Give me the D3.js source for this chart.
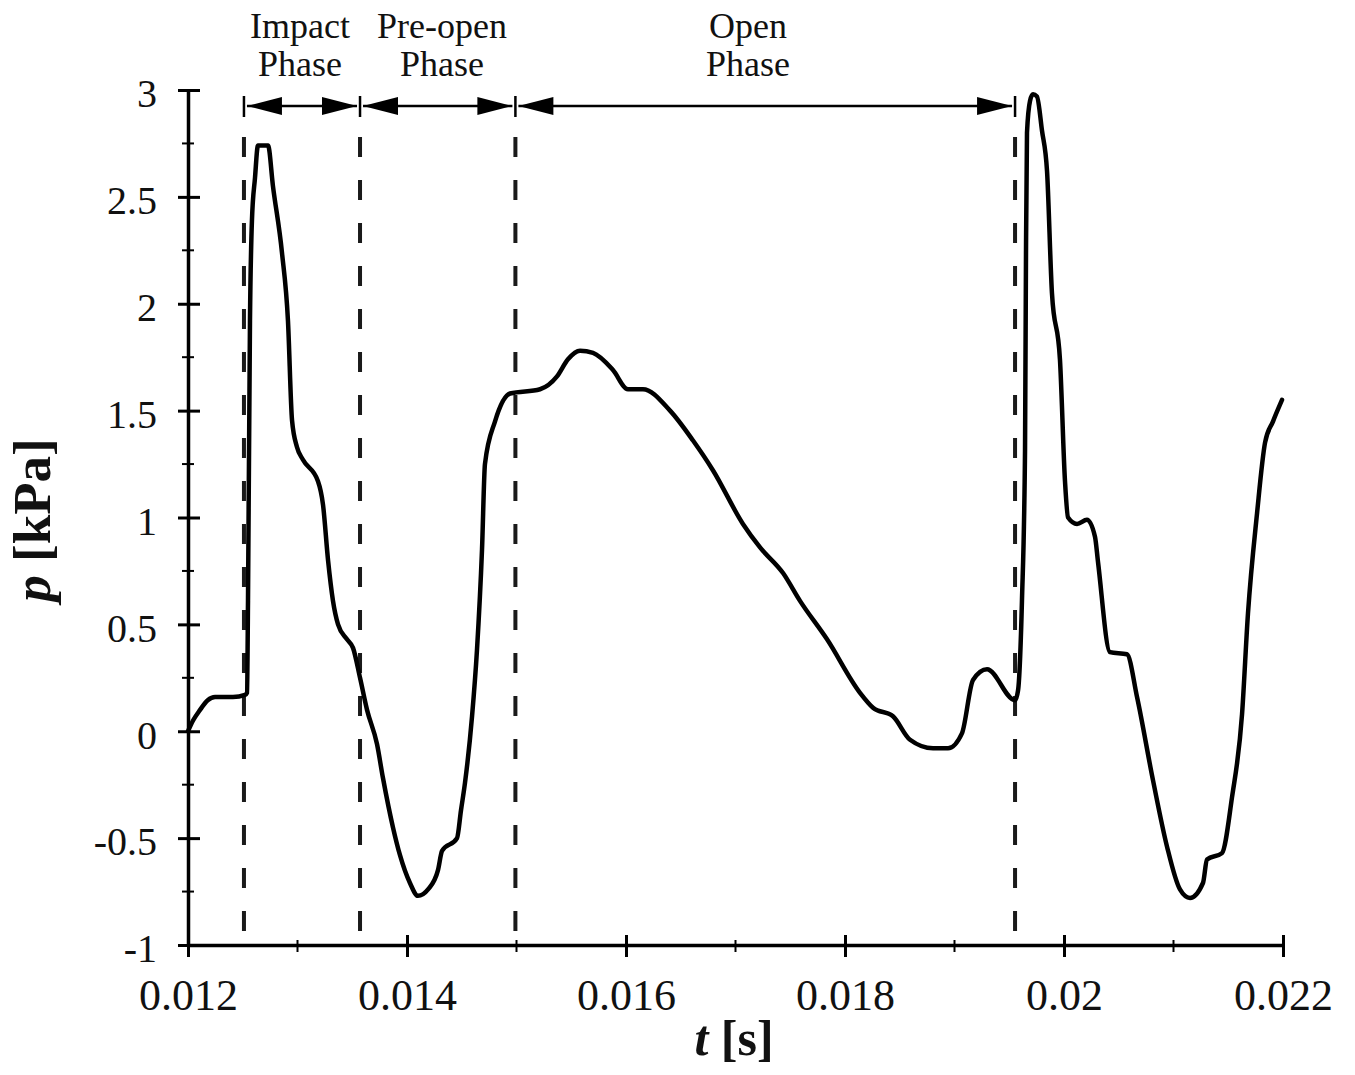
<!DOCTYPE html>
<html>
<head>
<meta charset="utf-8">
<script src="https://cdn.jsdelivr.net/npm/d3@7"></script>
<style>
  body { margin: 0; background: #fff; }
  svg { display: block; font-family: "Liberation Serif", "Times New Roman", serif; }
</style>
</head>
<body>
<svg></svg>
<script>
// t [s]
let times = [
  0.012, 0.012046, 0.01211, 0.01218, 0.012247, 0.012411, 0.012521, 0.012539,
  0.012548, 0.012566, 0.012584, 0.012612, 0.012639, 0.012731, 0.012776, 0.012858,
  0.012913, 0.01295, 0.012995, 0.01305, 0.013187, 0.013233, 0.013279, 0.013324,
  0.01337, 0.013452, 0.013507, 0.013571, 0.013635, 0.013726, 0.013781, 0.013872,
  0.013936, 0.014027, 0.0141, 0.014192, 0.014283, 0.01432, 0.014457, 0.014493,
  0.01453, 0.014594, 0.014639, 0.014685, 0.014712, 0.014804, 0.014941, 0.015215,
  0.01537, 0.01547, 0.01558, 0.015699, 0.015881, 0.016018, 0.016155, 0.016402,
  0.016612, 0.016795, 0.017068, 0.017224, 0.017434, 0.017589, 0.017836, 0.018137,
  0.018256, 0.018438, 0.018594, 0.018804, 0.018941, 0.019068, 0.019169, 0.019297,
  0.019553, 0.01958, 0.019616, 0.019644, 0.019653, 0.019662, 0.01969, 0.019717,
  0.019753, 0.019799, 0.019845, 0.01989, 0.019963, 0.020009, 0.020037, 0.020119,
  0.02021, 0.020283, 0.020311, 0.02042, 0.020575, 0.020667, 0.020813, 0.020941,
  0.021059, 0.021151, 0.021269, 0.021306, 0.021443, 0.021534, 0.021626, 0.02168,
  0.021763, 0.021836, 0.021909, 0.021991
];
// p [kPa]
let pressures = [
  0.0, 0.05, 0.1, 0.145, 0.16, 0.16, 0.17, 0.18,
  0.61, 1.92, 2.39, 2.59, 2.74, 2.74, 2.55, 2.24,
  1.92, 1.455, 1.33, 1.27, 1.17, 1.06, 0.8, 0.61,
  0.5, 0.43, 0.39, 0.25, 0.1, -0.06, -0.22, -0.45,
  -0.58, -0.71, -0.77, -0.74, -0.65, -0.56, -0.5, -0.37,
  -0.24, 0.07, 0.38, 0.85, 1.25, 1.45, 1.58, 1.6,
  1.66, 1.74, 1.78, 1.77, 1.69, 1.6, 1.6, 1.5,
  1.36, 1.22, 0.97, 0.86, 0.74, 0.61, 0.43, 0.18,
  0.11, 0.07, -0.04, -0.08, -0.08, -0.01, 0.24, 0.29,
  0.145, 0.19, 0.61, 1.31, 2.25, 2.8, 2.95, 2.98,
  2.97, 2.81, 2.62, 2.05, 1.74, 1.17, 1.0, 0.97,
  0.99, 0.91, 0.79, 0.37, 0.36, 0.16, -0.23, -0.54,
  -0.74, -0.78, -0.71, -0.6, -0.57, -0.31, 0.08, 0.55,
  1.02, 1.35, 1.45, 1.55
];

// phase boundaries (dashed lines) and labels
let phaseBounds = [0.012511, 0.013571, 0.01499, 0.019553];
let phaseNames = [["Impact", "Phase"], ["Pre-open", "Phase"], ["Open", "Phase"]];
let phaseLabelT = [0.013023, 0.01432, 0.017114];

let xTicks = [0.012, 0.014, 0.016, 0.018, 0.02, 0.022];
let xMinorTicks = [0.013, 0.015, 0.017, 0.019, 0.021];
let yTicks = [-1, -0.5, 0, 0.5, 1, 1.5, 2, 2.5, 3];
let yMinorTicks = [-0.75, -0.25, 0.25, 0.75, 1.25, 1.75, 2.25, 2.75];

let width = 1355;
let height = 1075;
let padLeft = 188, padRight = 1283, padTop = 90, padBottom = 945;
let arrowY = 106;

let svg = d3.select("svg").attr("width", width).attr("height", height);
svg.append("rect").attr("width", width).attr("height", height).attr("fill", "#fff");

let values = times.map((t, i) => ({ t: t, p: pressures[i] }));

let xScale = d3.scaleLinear().domain([0.012, 0.022]).range([padLeft, padRight]);
let yScale = d3.scaleLinear().domain([-1, 3]).range([padBottom, padTop]);

// dashed phase lines
svg.append("g")
  .selectAll("line")
  .data(phaseBounds)
  .enter()
  .append("line")
  .attr("x1", (d) => xScale(d))
  .attr("x2", (d) => xScale(d))
  .attr("y1", 137)
  .attr("y2", padBottom)
  .attr("stroke", "#1a1a1a")
  .attr("stroke-width", 4)
  .attr("stroke-dasharray", "20,23");

// axes
let xAxis = d3.axisBottom(xScale)
  .tickValues(xTicks)
  .tickFormat((d) => String(d))
  .tickSizeOuter(0);

let gx = svg.append("g")
  .attr("transform", "translate(0," + padBottom + ")")
  .call(xAxis);
gx.select(".domain").attr("stroke-width", 3.5);
gx.selectAll(".tick line").attr("y1", -10).attr("y2", 12).attr("stroke-width", 3);
gx.selectAll(".tick text")
  .attr("y", 65).attr("dy", 0)
  .attr("font-size", 44)
  .attr("font-family", "Liberation Serif, serif")
  .attr("fill", "#111");

gx.selectAll(".minor")
  .data(xMinorTicks)
  .enter()
  .append("line")
  .attr("x1", (d) => xScale(d))
  .attr("x2", (d) => xScale(d))
  .attr("y1", -5)
  .attr("y2", 7)
  .attr("stroke", "#000")
  .attr("stroke-width", 2);

let yAxis = d3.axisLeft(yScale)
  .tickValues(yTicks)
  .tickFormat((d) => String(d))
  .tickSizeOuter(0);

let gy = svg.append("g")
  .attr("transform", "translate(" + padLeft + ",0)")
  .call(yAxis);
gy.select(".domain").attr("stroke-width", 3.5);
gy.selectAll(".tick line").attr("x1", -10).attr("x2", 12).attr("stroke-width", 3);
gy.selectAll(".tick text")
  .attr("x", -31).attr("dy", "0.42em")
  .attr("font-size", 40)
  .attr("font-family", "Liberation Serif, serif")
  .attr("fill", "#111");

gy.selectAll(".minor")
  .data(yMinorTicks)
  .enter()
  .append("line")
  .attr("y1", (d) => yScale(d))
  .attr("y2", (d) => yScale(d))
  .attr("x1", -6)
  .attr("x2", 6)
  .attr("stroke", "#000")
  .attr("stroke-width", 2);

// curve
let line = d3.line()
  .x((d) => xScale(d.t))
  .y((d) => yScale(d.p))
  .curve(d3.curveMonotoneX);

svg.append("path")
  .datum(values)
  .attr("d", line)
  .attr("fill", "none")
  .attr("stroke", "#000")
  .attr("stroke-width", 4.5)
  .attr("stroke-linejoin", "round")
  .attr("stroke-linecap", "round");

// phase arrows on top
let arrows = svg.append("g");
let arrowLen = 35, arrowHalf = 9;

phaseBounds.forEach((b) => {
  arrows.append("line")
    .attr("x1", xScale(b)).attr("x2", xScale(b))
    .attr("y1", arrowY - 10).attr("y2", arrowY + 11)
    .attr("stroke", "#000").attr("stroke-width", 2.5);
});

for (let i = 0; i < phaseBounds.length - 1; i++) {
  let x0 = xScale(phaseBounds[i]) + 3;
  let x1 = xScale(phaseBounds[i + 1]) - 3;
  arrows.append("line")
    .attr("x1", x0).attr("x2", x1)
    .attr("y1", arrowY).attr("y2", arrowY)
    .attr("stroke", "#000").attr("stroke-width", 2.5);
  // left pointing head
  arrows.append("path")
    .attr("d", "M" + x0 + "," + arrowY + "L" + (x0 + arrowLen) + "," + (arrowY - arrowHalf) +
      "L" + (x0 + arrowLen) + "," + (arrowY + arrowHalf) + "Z")
    .attr("fill", "#000");
  // right pointing head
  arrows.append("path")
    .attr("d", "M" + x1 + "," + arrowY + "L" + (x1 - arrowLen) + "," + (arrowY - arrowHalf) +
      "L" + (x1 - arrowLen) + "," + (arrowY + arrowHalf) + "Z")
    .attr("fill", "#000");

  let label = svg.append("text")
    .attr("x", xScale(phaseLabelT[i]))
    .attr("text-anchor", "middle")
    .attr("font-size", 36)
    .attr("fill", "#111");
  label.append("tspan").attr("x", xScale(phaseLabelT[i])).attr("y", 38).text(phaseNames[i][0]);
  label.append("tspan").attr("x", xScale(phaseLabelT[i])).attr("y", 76).text(phaseNames[i][1]);
}

// axis titles
let xTitle = svg.append("text")
  .attr("x", 734)
  .attr("y", 1055)
  .attr("text-anchor", "middle")
  .attr("font-size", 50)
  .attr("font-weight", "bold")
  .attr("fill", "#111");
xTitle.append("tspan").attr("font-style", "italic").text("t");
xTitle.append("tspan").text(" [s]");

let yTitle = svg.append("text")
  .attr("transform", "translate(50,520) rotate(-90)")
  .attr("text-anchor", "middle")
  .attr("font-size", 53)
  .attr("font-weight", "bold")
  .attr("fill", "#111");
yTitle.append("tspan").attr("font-style", "italic").text("p");
yTitle.append("tspan").text(" [kPa]");
</script>
</body>
</html>
